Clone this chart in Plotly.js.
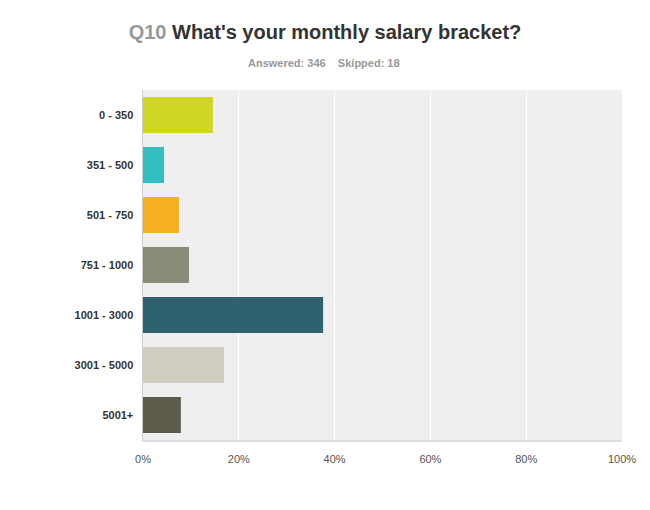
<!DOCTYPE html>
<html>
<head>
<meta charset="utf-8">
<script src="https://cdn.plot.ly/plotly-3.0.1.min.js"></script>
<style>
  body { margin: 0; background: #fff; }
  #chart { width: 650px; height: 510px; }
</style>
</head>
<body>
<div id="chart"></div>
<script>
// salary brackets and share of respondents (%)
var brackets = ['0 - 350', '351 - 500', '501 - 750', '751 - 1000', '1001 - 3000', '3001 - 5000', '5001+'];
var percents = [14.6, 4.4, 7.5, 9.6, 37.6, 16.9, 7.9];
var barColors = ['#d0d626', '#33bec1', '#f7b01f', '#8b8b79', '#2f616e', '#d0cec0', '#5d5b4b'];
var xTicks = [0, 20, 40, 60, 80, 100];
var xTickText = ['0%', '20%', '40%', '60%', '80%', '100%'];

var trace = {
    type: 'bar',
    orientation: 'h',
    y: brackets,
    x: percents,
    marker: { color: barColors },
    hoverinfo: 'x+y'
};

var layout = {
    width: 650,
    height: 510,
    margin: { t: 90, b: 70, l: 143, r: 28 },
    paper_bgcolor: '#fff',
    plot_bgcolor: '#efefef',
    bargap: 0.28,
    showlegend: false,
    font: { family: 'Arial, "Liberation Sans", sans-serif', size: 11, color: '#555' },
    title: {
        text: '<span style="color:#999999">Q10</span> What\'s your monthly salary bracket?',
        font: { size: 20, color: '#333', family: 'Arial, "Liberation Sans", sans-serif', weight: 'bold' },
        x: 0.5,
        xanchor: 'center',
        y: 0.937,
        yanchor: 'middle'
    },
    annotations: [{
        text: 'Answered: 346&nbsp;&nbsp;&nbsp;&nbsp;Skipped: 18',
        xref: 'paper', yref: 'paper',
        x: 0.377, y: 1.078,
        xanchor: 'center', yanchor: 'middle',
        showarrow: false,
        font: { size: 11, color: '#999', weight: 'bold' }
    }],
    xaxis: {
        range: [0, 100],
        tickvals: xTicks,
        ticktext: xTickText,
        showgrid: true,
        gridcolor: '#ffffff',
        gridwidth: 1,
        zeroline: false,
        showline: true,
        linecolor: '#dddddd',
        linewidth: 2,
        ticks: '',
        ticklen: 0,
        ticklabelstandoff: 8,
        tickfont: { size: 11, color: '#555' },
        fixedrange: true
    },
    yaxis: {
        type: 'category',
        autorange: 'reversed',
        showgrid: false,
        zeroline: false,
        showline: true,
        linecolor: '#cccccc',
        linewidth: 1.5,
        ticks: '',
        ticklabelstandoff: 6,
        tickfont: { size: 11, color: '#333', weight: 'bold' },
        fixedrange: true
    }
};

Plotly.newPlot('chart', [trace], layout, { displayModeBar: false, staticPlot: true });
</script>
</body>
</html>
